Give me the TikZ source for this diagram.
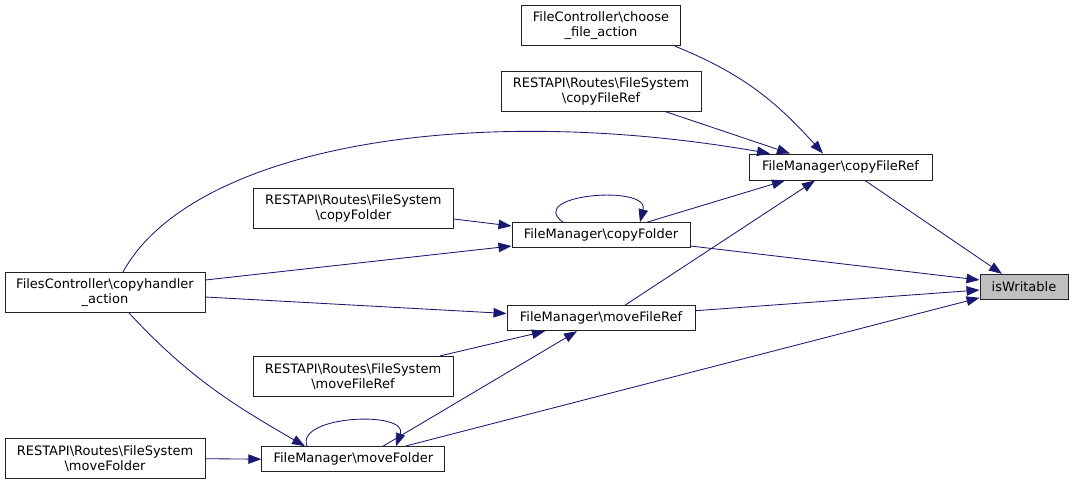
\documentclass[tikz,border=0pt]{standalone}
\usepackage{fontspec}
\setmainfont{DejaVu Sans}
\usetikzlibrary{arrows.meta,calc}
\definecolor{edgecol}{HTML}{191970}
\definecolor{boxborder}{HTML}{222222}
\definecolor{hlfill}{HTML}{BFBFBF}
\begin{document}
\begin{tikzpicture}[x=1pt,y=-1pt,
  fn/.style={draw=boxborder, line width=1pt, fill=white, inner sep=0pt, align=center,
    font=\fontsize{13}{15}\selectfont, text=black},
  hl/.style={fn, fill=hlfill},
  call/.style={draw=edgecol, line width=0.85pt, -{Triangle[length=13pt,width=9.5pt]}, color=edgecol}]
\useasboundingbox (0,0) rectangle (1073,485);
% nodes
\node[fn, minimum width=159, minimum height=40] (choose) at (601,25.7) {FileController\textbackslash choose\\\_file\_action};
\node[fn, minimum width=200, minimum height=40] (rcfr) at (601,91) {RESTAPI\textbackslash Routes\textbackslash FileSystem\\\textbackslash copyFileRef};
\node[fn, minimum width=183, minimum height=26] (cfr) at (840.5,167) {FileManager\textbackslash copyFileRef};
\node[fn, minimum width=200, minimum height=40] (rcf) at (353.3,208.7) {RESTAPI\textbackslash Routes\textbackslash FileSystem\\\textbackslash copyFolder};
\node[fn, minimum width=178, minimum height=25] (cf) at (601,235.2) {FileManager\textbackslash copyFolder};
\node[fn, minimum width=200, minimum height=40] (fc) at (105,292.5) {FilesController\textbackslash copyhandler\\\_action};
\node[hl, minimum width=88, minimum height=25] (isw) at (1024,286.8) {isWritable};
\node[fn, minimum width=188, minimum height=25] (mfr) at (601,318.2) {FileManager\textbackslash moveFileRef};
\node[fn, minimum width=200, minimum height=40] (rmfr) at (353,376.4) {RESTAPI\textbackslash Routes\textbackslash FileSystem\\\textbackslash moveFileRef};
\node[fn, minimum width=200, minimum height=40] (rmf) at (105,458.7) {RESTAPI\textbackslash Routes\textbackslash FileSystem\\\textbackslash moveFolder};
\node[fn, minimum width=183, minimum height=25] (mf) at (353.3,459.2) {FileManager\textbackslash moveFolder};
% edges into copyFileRef
\draw[call] ($(choose.south east)+(-6,0)$) to[out=-22,in=132] ($(cfr.north)+(-17.5,0)$);
\draw[call] ($(rcfr.south)+(64,0)$) -- ($(cfr.north)+(-50.5,0)$);
\draw[call] ($(fc.north)+(18,0)$) .. controls (190,150) and (460,100) .. ($(cfr.north)+(-70.5,0)$);
\draw[call] ($(cf.north)+(46,0)$) -- ($(cfr.south)+(-55.5,0)$);
\draw[call] ($(mfr.north)+(24,0)$) -- ($(cfr.south)+(-25.5,0)$);
% edges into isWritable
\draw[call] ($(cfr.south)+(24.5,0)$) -- ($(isw.north)+(-22,0)$);
\draw[call] ($(cf.east)+(0,10.8)$) -- ($(isw.west)+(0,-6.8)$);
\draw[call] ($(mfr.east)+(0,-7.5)$) -- ($(isw.west)+(0,3.2)$);
\draw[call] ($(mf.north)+(51.7,0)$) -- ($(isw.west)+(0,11)$);
% edges from FilesController
\draw[call] ($(fc.east)+(0,-12.5)$) -- ($(cf.west)+(0,10.8)$);
\draw[call] ($(fc.east)+(0,4.5)$) -- ($(mfr.west)+(0,-4.7)$);
\draw[call] ($(fc.south)+(24,0)$) to[out=-47,in=150] ($(mf.north)+(-48.3,0)$);
% other edges
\draw[call] ($(rcf.east)+(0,10.3)$) -- ($(cf.west)+(0,-9.2)$);
\draw[call] ($(rmfr.north)+(87,0)$) -- ($(mfr.south)+(-56,0)$);
\draw[call] ($(mf.north)+(29.7,0)$) -- ($(mfr.south)+(-24,0)$);
\draw[call] (rmf.east) -- (mf.west);
% self loops
\draw[call] ($(cf.north)+(-38,0)$) .. controls +(-38,-28) and +(10,-38) .. ($(cf.north)+(39,0)$);
\draw[call] ($(mf.north)+(-46.3,0)$) .. controls +(-12,-31) and +(13,-36) .. ($(mf.north)+(42.7,0)$);
\end{tikzpicture}
\end{document}
